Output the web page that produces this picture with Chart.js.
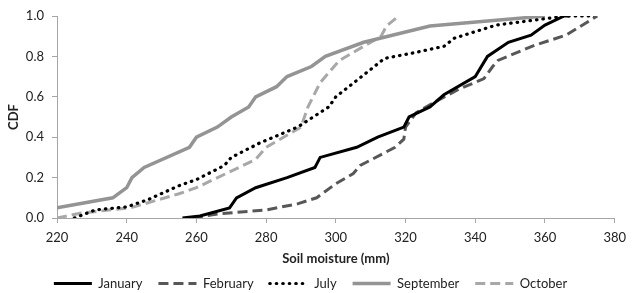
<!DOCTYPE html>
<html>
<head>
<meta charset="utf-8">
<script src="https://cdn.jsdelivr.net/npm/chart.js@4"></script>
<style>
  body { margin: 0; background: #fff; }
  #chart { display: block; }
</style>
</head>
<body>
<canvas id="chart" width="633" height="293"></canvas>
<script>
// soil moisture (mm) and cumulative probability
const janMoisture = [256, 261, 269.5, 271.5, 277, 286, 294, 295.5, 306, 312, 319.5, 321, 327, 331, 340, 343.5, 349.5, 356, 360, 365.5, 367];
const janCdf      = [0, 0.01, 0.05, 0.1, 0.15, 0.2, 0.25, 0.3, 0.35, 0.4, 0.45, 0.5, 0.55, 0.61, 0.7, 0.8, 0.87, 0.905, 0.955, 1.0, 1.0];

const febMoisture = [259, 266, 280, 289, 294.5, 300, 305, 307, 317, 319.5, 320, 323, 329, 335, 342.5, 345, 346.5, 357, 366, 375];
const febCdf      = [0, 0.02, 0.04, 0.07, 0.1, 0.17, 0.22, 0.26, 0.35, 0.39, 0.45, 0.52, 0.58, 0.635, 0.69, 0.75, 0.78, 0.855, 0.905, 1.0];

const julMoisture = [225, 231, 240, 246, 255, 260, 268, 270, 278, 289, 298, 300, 314, 323, 331, 334, 346, 366, 375];
const julCdf      = [0, 0.04, 0.055, 0.09, 0.16, 0.19, 0.26, 0.3, 0.37, 0.45, 0.55, 0.6, 0.79, 0.82, 0.85, 0.89, 0.955, 1.0, 1.0];

const sepMoisture = [220, 236, 240, 241.5, 245, 258, 260, 266, 270, 275, 277, 283, 286, 293, 297, 308, 327, 360];
const sepCdf      = [0.05, 0.1, 0.15, 0.2, 0.25, 0.35, 0.4, 0.45, 0.5, 0.55, 0.6, 0.65, 0.7, 0.75, 0.8, 0.87, 0.95, 1.0];

const octMoisture = [220, 227, 241, 255, 260, 277, 280, 290, 292, 295.5, 301, 308, 313, 314.5, 318];
const octCdf      = [0, 0.025, 0.05, 0.12, 0.15, 0.29, 0.35, 0.45, 0.55, 0.67, 0.78, 0.85, 0.9, 0.95, 1.0];

const xTicks = [220, 240, 260, 280, 300, 320, 340, 360, 380];
const yTicks = [0, 0.2, 0.4, 0.6, 0.8, 1.0];

function points(xs, ys) {
	return xs.map((x, i) => ({ x: x, y: ys[i] }));
}

function series(label, xs, ys, color, dash, cap, width) {
	return {
		label: label,
		data: points(xs, ys),
		showLine: true,
		borderColor: color,
		backgroundColor: color,
		borderWidth: width,
		borderDash: dash,
		borderCapStyle: cap,
		pointRadius: 0,
		pointHoverRadius: 0,
		tension: 0
	};
}

// legend samples need the dataset dash, which the default labels drop with point styles
function legendLabels(chart) {
	return chart.data.datasets.map((ds, i) => ({
		text: ds.label,
		datasetIndex: i,
		hidden: false,
		pointStyle: 'line',
		strokeStyle: ds.borderColor,
		fillStyle: ds.borderColor,
		lineWidth: ds.borderWidth,
		lineDash: ds.borderDash,
		lineCap: ds.borderCapStyle,
		fontColor: '#222'
	}));
}

Chart.defaults.font.family = 'Lato, "Liberation Sans", sans-serif';
Chart.defaults.font.size = 13;
Chart.defaults.color = '#222';

const axisGray = '#a6a6a6';

new Chart(document.getElementById('chart'), {
	type: 'scatter',
	data: {
		datasets: [
			series('January', janMoisture, janCdf, '#000000', [], 'butt', 3),
			series('February', febMoisture, febCdf, '#575757', [10, 5], 'butt', 3),
			series('July', julMoisture, julCdf, '#000000', [0.5, 6], 'round', 3.2),
			series('September', sepMoisture, sepCdf, '#949494', [], 'butt', 3.5),
			series('October', octMoisture, octCdf, '#a8a8a8', [10, 5], 'butt', 3)
		]
	},
	options: {
		responsive: false,
		animation: false,
		layout: { padding: { left: 0, right: 12, top: 16, bottom: 0 } },
		plugins: {
			tooltip: { enabled: false },
			legend: {
				position: 'bottom',
				maxHeight: 32,
				labels: {
					usePointStyle: true,
					pointStyleWidth: 38,
					padding: 16,
					color: '#222',
					font: { size: 13 },
					generateLabels: legendLabels
				}
			}
		},
		scales: {
			x: {
				type: 'linear',
				min: 220,
				max: 380,
				afterBuildTicks: (scale) => { scale.ticks = xTicks.map(v => ({ value: v })); },
				afterFit: (scale) => { scale.height = 43; },
				ticks: { padding: 7, color: '#222' },
				grid: { drawOnChartArea: false, tickLength: 5, color: axisGray },
				border: { color: axisGray, width: 1 },
				title: {
					display: true,
					text: 'Soil moisture (mm)',
					font: { weight: 'bold', size: 13 },
					color: '#222',
					padding: { top: 2, bottom: -6 }
				}
			},
			y: {
				min: 0,
				max: 1,
				afterBuildTicks: (scale) => { scale.ticks = yTicks.map(v => ({ value: v })); },
				afterFit: (scale) => { scale.width = 57; },
				ticks: { padding: 8, color: '#222', callback: (v) => Number(v).toFixed(1) },
				grid: { drawOnChartArea: false, tickLength: 5, color: axisGray },
				border: { color: axisGray, width: 1 },
				title: {
					display: true,
					text: 'CDF',
					font: { weight: 'bold', size: 13 },
					color: '#222',
					padding: { top: 6, bottom: 0 }
				}
			}
		}
	}
});
</script>
</body>
</html>
